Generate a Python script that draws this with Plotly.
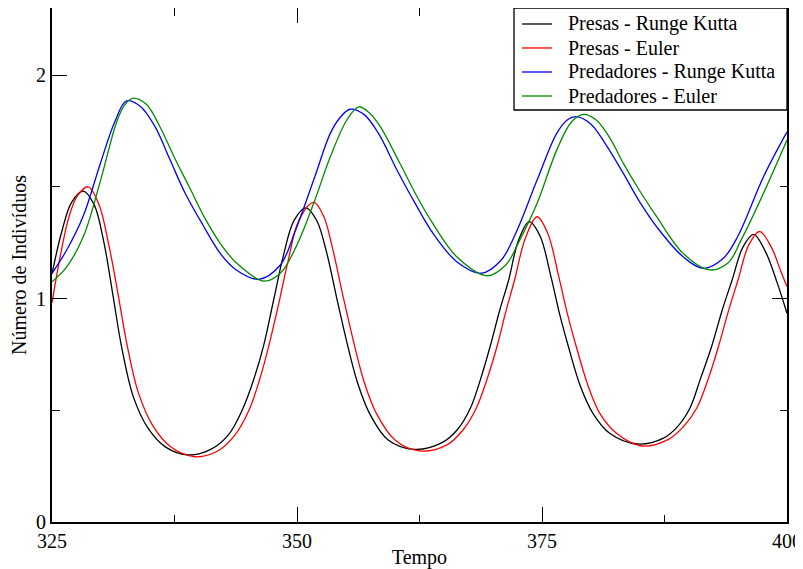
import plotly.graph_objects as go

# Presas - Runge Kutta
presas_rk_t = [325.0, 326.0, 327.0, 328.2, 329.3, 330.3, 331.2, 332.1, 333.3, 334.8, 336.6, 338.9,
               341.2, 343.0, 344.4, 345.6, 346.6, 347.6, 348.6, 349.7, 350.9, 352.0, 353.0, 354.1,
               355.2, 356.2, 357.4, 359.3, 362.0, 364.8, 366.4, 367.7, 368.7, 369.7, 370.7, 371.6,
               372.6, 373.7, 374.8, 375.9, 376.8, 377.7, 378.9, 380.2, 381.9, 384.7, 387.4, 388.9,
               390.1, 391.2, 392.3, 393.4, 394.4, 395.5, 396.6, 397.8, 399.0, 400.0]
presas_rk = [1.11, 1.30, 1.43, 1.481, 1.42, 1.25, 1.02, 0.784, 0.56, 0.42, 0.335, 0.300,
             0.325, 0.39, 0.50, 0.64, 0.79, 0.99, 1.19, 1.35, 1.406, 1.35, 1.21, 0.993,
             0.784, 0.62, 0.486, 0.367, 0.325, 0.355, 0.415, 0.51, 0.635, 0.784, 0.95, 1.083,
             1.26, 1.344, 1.28, 1.10, 0.93, 0.784, 0.61, 0.486, 0.397, 0.349, 0.375, 0.43,
             0.51, 0.645, 0.784, 0.95, 1.083, 1.23, 1.287, 1.21, 1.07, 0.934]

# Presas - Euler
presas_eu_t = [325.0, 325.8, 326.7, 327.6, 328.7, 329.8, 330.8, 331.7, 332.7, 333.8, 335.3, 337.1,
               339.6, 342.0, 343.6, 345.1, 346.2, 347.1, 348.1, 349.1, 350.2, 351.7, 352.7, 353.6,
               354.7, 355.9, 356.9, 358.1, 360.0, 362.5, 365.3, 367.0, 368.3, 369.4, 370.4, 371.3,
               372.2, 373.3, 374.5, 375.6, 376.7, 377.6, 378.5, 379.7, 380.9, 382.6, 385.2, 387.9,
               389.5, 390.8, 392.0, 393.0, 394.0, 395.0, 396.1, 397.2, 398.4, 399.3, 400.0]
presas_eu = [0.98, 1.18, 1.36, 1.46, 1.50, 1.42, 1.24, 1.03, 0.784, 0.58, 0.43, 0.337,
             0.292, 0.32, 0.385, 0.50, 0.64, 0.784, 0.97, 1.17, 1.35, 1.43, 1.37, 1.23,
             1.01, 0.784, 0.62, 0.486, 0.367, 0.318, 0.345, 0.415, 0.51, 0.64, 0.784, 0.94,
             1.083, 1.27, 1.366, 1.29, 1.10, 0.93, 0.784, 0.61, 0.486, 0.397, 0.340, 0.37,
             0.43, 0.51, 0.645, 0.784, 0.94, 1.083, 1.24, 1.30, 1.23, 1.13, 1.053]

# Predadores - Runge Kutta
pred_rk_t = [325.0, 326.5, 328.2, 329.9, 331.4, 332.6, 334.0, 335.5, 337.0, 338.6, 340.4, 342.2,
             343.8, 346.1, 348.3, 349.8, 351.7, 353.4, 354.4, 355.4, 356.8, 358.3, 360.2, 362.0,
             363.9, 366.3, 368.8, 370.8, 372.3, 374.5, 376.5, 377.6, 378.5, 380.0, 381.5,
             383.3, 385.0, 386.7, 389.4, 391.5, 393.5, 395.0, 397.6, 400.0]
pred_rk = [1.113, 1.217, 1.37, 1.60, 1.79, 1.884, 1.86, 1.77, 1.625, 1.47, 1.329, 1.20,
           1.128, 1.086, 1.15, 1.30, 1.53, 1.739, 1.81, 1.847, 1.825, 1.74, 1.575, 1.43,
           1.29, 1.165, 1.113, 1.17, 1.29, 1.530, 1.739, 1.80, 1.814, 1.78, 1.69,
           1.56, 1.43, 1.321, 1.187, 1.135, 1.18, 1.28, 1.545, 1.746]

# Predadores - Euler
pred_eu_t = [325.0, 326.5, 328.2, 329.9, 331.6, 332.4, 333.2, 334.6, 336.0, 337.5, 339.0, 340.6,
             342.2, 343.8, 346.6, 348.3, 350.0, 351.7, 353.4, 355.1, 356.3, 357.4, 358.5, 360.5,
             362.2, 363.8, 366.3, 369.4, 371.3, 372.6, 374.5, 376.5, 378.0, 379.2, 380.5, 381.9,
             383.3, 385.0, 386.7, 389.4, 392.1, 394.0, 395.3, 397.6, 400.0]
pred_eu = [1.075, 1.142, 1.277, 1.52, 1.79, 1.865, 1.896, 1.87, 1.77, 1.63, 1.50, 1.36,
           1.245, 1.16, 1.078, 1.113, 1.24, 1.426, 1.634, 1.80, 1.858, 1.83, 1.769, 1.605,
           1.46, 1.34, 1.187, 1.102, 1.15, 1.25, 1.426, 1.664, 1.79, 1.824, 1.80, 1.72,
           1.605, 1.48, 1.366, 1.202, 1.128, 1.16, 1.26, 1.471, 1.709]

x_ticks = [325, 350, 375, 400]
y_ticks = [0, 1, 2]

FONT = "Liberation Serif"

series = [
    ("Presas - Runge Kutta", presas_rk_t, presas_rk, "#000000"),
    ("Presas - Euler", presas_eu_t, presas_eu, "#ff0000"),
    ("Predadores - Runge Kutta", pred_rk_t, pred_rk, "#0000ff"),
    ("Predadores - Euler", pred_eu_t, pred_eu, "#008b00"),
]

fig = go.Figure()
for name, xs, ys, col in series:
    fig.add_trace(go.Scatter(x=xs, y=ys, mode="lines", name=name, showlegend=False,
                             line=dict(color=col, width=1.3, shape="spline", smoothing=1.0)))

# legend box drawn in paper coordinates (top-right corner of the plot)
leg_x0, leg_x1, leg_y0, leg_y1 = 0.6286, 1.0, 0.8016, 1.0
row_y = [0.9689, 0.9222, 0.8755, 0.8288]
fig.add_shape(type="rect", xref="paper", yref="paper", x0=leg_x0, x1=leg_x1, y0=leg_y0, y1=leg_y1,
              line=dict(color="black", width=1.3), fillcolor="white", layer="above")
for (name, _, _, col), ry in zip(series, row_y):
    fig.add_shape(type="line", xref="paper", yref="paper", x0=0.6395, x1=0.6803, y0=ry, y1=ry,
                  line=dict(color=col, width=1.3), layer="above")
    fig.add_annotation(xref="paper", yref="paper", x=0.6993, y=ry, text=name, showarrow=False,
                       xanchor="left", yanchor="middle",
                       font=dict(family=FONT, size=20, color="black"))

axis_common = dict(showline=True, linecolor="black", linewidth=2, mirror="allticks",
                   ticks="inside", ticklen=15, tickwidth=1.3, tickcolor="black",
                   showgrid=False, zeroline=False, automargin=False,
                   tickfont=dict(family=FONT, size=20, color="black"),
                   title_font=dict(family=FONT, size=20, color="black"))

fig.update_xaxes(range=[325, 400], tickvals=x_ticks, ticktext=[str(v) for v in x_ticks],
                 minor=dict(ticks="inside", ticklen=7.5, tickwidth=1.3, tickcolor="black", dtick=12.5, tick0=325),
                 title_text="Tempo", title_standoff=0, **axis_common)
fig.update_yaxes(range=[0, 2.3], tickvals=y_ticks, ticktext=[str(v) for v in y_ticks],
                 minor=dict(ticks="inside", ticklen=7.5, tickwidth=1.3, tickcolor="black", dtick=0.5, tick0=0),
                 title_text="Número de Indivíduos", title_standoff=8, **axis_common)

# the page adds an 8px body margin, so the figure is sized to fit the window
fig.update_layout(
    width=795, height=561,
    margin=dict(l=44, r=16, t=0, b=47),
    paper_bgcolor="white", plot_bgcolor="white",
    font=dict(family=FONT, size=20, color="black"),
    showlegend=False,
)

fig.write_html("out.html")
